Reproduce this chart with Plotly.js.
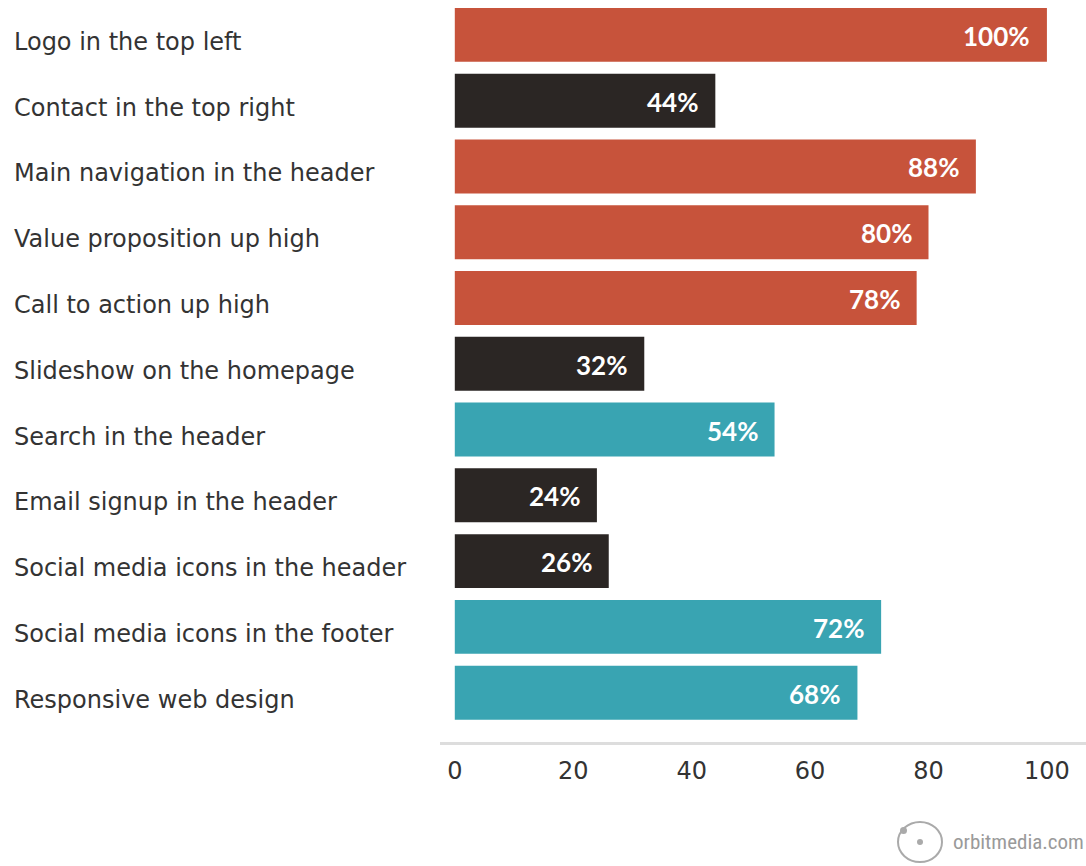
<!DOCTYPE html>
<html>
<head>
<meta charset="utf-8">
<script src="https://cdn.plot.ly/plotly-3.0.1.min.js"></script>
<style>
html,body{margin:0;padding:0;background:#fff;}
#chart{width:1086px;height:866px;}
</style>
</head>
<body>
<div id="chart"></div>
<script>
var categories = [
  "Logo in the top left",
  "Contact in the top right",
  "Main navigation in the header",
  "Value proposition up high",
  "Call to action up high",
  "Slideshow on the homepage",
  "Search in the header",
  "Email signup in the header",
  "Social media icons in the header",
  "Social media icons in the footer",
  "Responsive web design"
];
var values = [100, 44, 88, 80, 78, 32, 54, 24, 26, 72, 68];
var groups = ["red", "dark", "red", "red", "red", "dark", "teal", "dark", "dark", "teal", "teal"];
var xTicks = [0, 20, 40, 60, 80, 100];

var palette = {red: "#C7533B", dark: "#2B2624", teal: "#39A4B2"};

var trace = {
  type: "bar",
  orientation: "h",
  y: categories,
  x: values,
  marker: {color: groups.map(function(g){return palette[g];}), line: {width: 0}},
  hoverinfo: "none",
  textposition: "none"
};

var annotations = [];
categories.forEach(function(c, i){
  annotations.push({
    xref: "paper", yref: "y", x: -0.663, y: c,
    text: c, showarrow: false, xanchor: "left", yanchor: "middle", yshift: -7,
    font: {family: "DejaVu Sans, sans-serif", size: 24, color: "#333333"}
  });
  annotations.push({
    xref: "x", yref: "y", x: values[i], y: c,
    text: values[i] + "%", showarrow: false, xanchor: "right", yanchor: "middle",
    xshift: -15, yshift: -1,
    font: {family: "Lato, sans-serif", size: 26, color: "#ffffff", weight: "bold"}
  });
});
annotations.push({
  xref: "paper", yref: "paper", x: 1.0, y: -0.135,
  text: "orbitmedia.com", showarrow: false, xanchor: "right", yanchor: "middle",
  font: {family: "Liberation Sans Narrow, Roboto Condensed, Roboto, sans-serif", size: 21, color: "#9a9a9a"}
});

var layout = {
  width: 1086, height: 866,
  margin: {l: 440, r: 0, t: 2, b: 124},
  paper_bgcolor: "#ffffff",
  plot_bgcolor: "#ffffff",
  bargap: 0.18,
  showlegend: false,
  xaxis: {
    range: [-2.5, 106.6],
    tickvals: xTicks,
    ticktext: xTicks.map(String),
    showgrid: false, zeroline: false,
    showline: true, linecolor: "#dddddd", linewidth: 3,
    ticks: "", ticklen: 0,
    ticklabelstandoff: 5,
    tickfont: {family: "DejaVu Sans, sans-serif", size: 24, color: "#333333"},
    fixedrange: true
  },
  yaxis: {
    type: "category",
    range: [10.75, -0.5],
    showticklabels: false,
    showgrid: false, zeroline: false, showline: false, ticks: "",
    fixedrange: true
  },
  annotations: annotations,
  shapes: [
    {type: "circle", xref: "paper", yref: "paper",
     x0: (898-440)/646, x1: (942-440)/646, y0: (742-862)/740, y1: (742-822)/740,
     line: {color: "#aaaaaa", width: 2}},
    {type: "circle", xref: "paper", yref: "paper",
     x0: (917-440)/646, x1: (923-440)/646, y0: (742-845)/740, y1: (742-839)/740,
     fillcolor: "#aaaaaa", line: {width: 0}},
    {type: "circle", xref: "paper", yref: "paper",
     x0: (900-440)/646, x1: (907-440)/646, y0: (742-834)/740, y1: (742-827)/740,
     fillcolor: "#aaaaaa", line: {width: 0}}
  ]
};

Plotly.newPlot("chart", [trace], layout, {displayModeBar: false, staticPlot: true});
</script>
</body>
</html>
